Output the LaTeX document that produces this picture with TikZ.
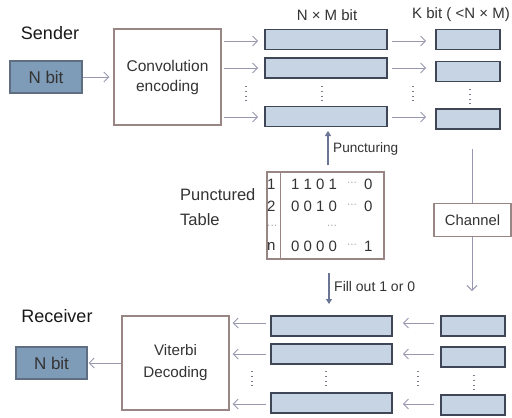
\documentclass[tikz,border=0pt]{standalone}
\usepackage{fontspec}
\setmainfont{Liberation Sans}
\usetikzlibrary{arrows.meta}
\definecolor{boxfill}{HTML}{C6D4E3}
\definecolor{boxline}{HTML}{3F4656}
\definecolor{nfill}{HTML}{7E9BB8}
\definecolor{nline}{HTML}{5F6E80}
\definecolor{procline}{HTML}{9A8585}
\definecolor{arrcol}{HTML}{9898B0}
\definecolor{thickcol}{HTML}{6A7595}
\definecolor{txt}{HTML}{333333}
\newcommand{\fs}[2][1.2]{\fontsize{#2bp}{#1\dimexpr #2bp\relax}\selectfont}
\newcommand{\fsk}[2]{\fontsize{#1bp}{#2bp}\selectfont}
\begin{document}
\begin{tikzpicture}[x=1bp,y=-1bp,
  bitbox/.style={draw=boxline,fill=boxfill,line width=1.6bp,inner sep=0pt,minimum height=20bp},
  nbox/.style={draw=nline,fill=nfill,line width=1.2bp,inner sep=0pt,minimum width=72bp,minimum height=32bp,text=txt,font=\fs{17}},
  proc/.style={draw=procline,fill=white,line width=1.2bp,inner sep=0pt,text=txt,align=center},
  arr/.style={draw=arrcol,line width=0.9bp,-{Straight Barb[length=5bp,width=10bp]}},
  thick/.style={draw=thickcol,line width=2.4bp,-{Triangle[length=5bp,width=6bp]}},
  lbl/.style={text=txt,inner sep=0pt},
  dim/.style={text=txt!55},
  vdots/.style={draw=arrcol!80!black,line width=1.3bp,dash pattern=on 1.3bp off 3.5bp}
]
\useasboundingbox (0,0) rectangle (512,417);
\fill[white] (0,0) rectangle (512,417);

% ---------- Sender ----------
\node[lbl,font=\fs{18},text=black!90] (sender) at (50,33) {Sender};
\node[nbox] (sn) at (46,77) {N bit};
\node[proc,font=\fsk{15.5}{20},minimum width=107bp,minimum height=96bp] (conv) at (167.5,77) {Convolution\\encoding};
\draw[arr] (sn.east) -- ([xshift=-4bp]conv.west |- sn.east);

\node[lbl,font=\fs{15}] (lnm) at (327,15) {N × M bit};
\node[lbl,font=\fs{15}] (lk) at (461,15) {K bit ( <N × M)};

\node[bitbox,minimum width=122bp] (n1) at (326,39.5) {};
\node[bitbox,minimum width=122bp] (n2) at (326,68) {};
\node[bitbox,minimum width=122bp] (n3) at (326,116.5) {};
\node[bitbox,minimum width=64bp] (k1) at (468,39.5) {};
\node[bitbox,minimum width=64bp] (k2) at (468,71.5) {};
\node[bitbox,minimum width=64bp] (k3) at (468,119) {};

\foreach \r/\y in {1/41,2/68,3/117}{
  \draw[arr] ([xshift=2bp]conv.east |- 0,\y) -- ([xshift=-6bp]n\r.west |- 0,\y);
  \draw[arr] ([xshift=4bp]n\r.east |- 0,\y) -- ([xshift=-9bp]k\r.west |- 0,\y);
}
\draw[vdots] (246,86) -- (246,101);
\draw[vdots] (322,86) -- (322,101);
\draw[vdots] (413,86) -- (413,101);
\draw[vdots] (470,89) -- (470,104);

% ---------- Punctured table ----------
\node[draw=procline,line width=1.4bp,minimum width=117bp,minimum height=87bp,inner sep=0pt] (tab) at (325.5,215.5) {};
\draw[draw=procline,line width=1.4bp] (tab.north west) ++(14,0) coordinate (dtop) -- (dtop |- tab.south);
\node[lbl,font=\fsk{16.5}{25},align=left,anchor=west] (ptl) at (180,207.5) {Punctured\\Table};
\foreach \t/\y in {1/184,2/206}{\node[lbl,font=\fs{15},anchor=west] (c\t) at (267,\y) {\t};}
\node[lbl,font=\fs{10},anchor=west,dim] (cd) at (267,227) {···};
\node[lbl,font=\fs{15},anchor=west] (cn) at (267,246) {n};
\foreach \nm/\y/\d/\e in {r1/184/1 1 0 1/0, r2/206/0 0 1 0/0, rn/246/0 0 0 0/1}{
  \node[lbl,font=\fs{15},anchor=west] (\nm a) at (291,\y) {\d};
  \node[lbl,font=\fs{10},dim] (\nm b) at (352,\y) {···};
  \node[lbl,font=\fs{15},anchor=west] (\nm c) at (364,\y) {\e};
}
\node[lbl,font=\fs{10},dim] (rd) at (332,227) {···};

\coordinate (pbot) at (328,165);
\coordinate (ptop) at (328,131);
\draw[thick] (pbot) -- (ptop);
\node[lbl,font=\fs{13.6},anchor=west] (punc) at (333,149) {Puncturing};

% ---------- Channel ----------
\node[proc,font=\fs{14.8},minimum width=77bp,minimum height=33bp] (chan) at (472.5,220) {Channel};
\coordinate (ctop) at (472,149);
\coordinate (cbot) at (472,291);
\draw[draw=arrcol,line width=0.9bp] (ctop) -- (ctop |- chan.north);
\draw[arr] (ctop |- chan.south) -- (cbot);

\coordinate (ftop) at (329,273);
\coordinate (fbot) at (329,304);
\draw[thick] (ftop) -- (fbot);
\node[lbl,font=\fs{14},anchor=west] (fill) at (334,286) {Fill out 1 or 0};

% ---------- Receiver ----------
\node[lbl,font=\fs{18},text=black!90] (recv) at (57,316) {Receiver};
\node[nbox,minimum width=71bp] (rn0) at (51.5,363) {N bit};
\node[proc,font=\fsk{15.2}{22},minimum width=107bp,minimum height=94bp] (vit) at (175.5,363) {Viterbi\\Decoding};
\draw[arr] (vit.west) -- ([xshift=1bp]rn0.east);

\node[bitbox,minimum width=121bp] (m1) at (331.5,326) {};
\node[bitbox,minimum width=121bp] (m2) at (331.5,354) {};
\node[bitbox,minimum width=121bp] (m3) at (331.5,403) {};
\node[bitbox,minimum width=64bp] (q1) at (473,326) {};
\node[bitbox,minimum width=64bp] (q2) at (473,357) {};
\node[bitbox,minimum width=64bp] (q3) at (473,405) {};

\foreach \r/\y in {1/323,2/354,3/404}{
  \draw[arr] ([xshift=-4bp]m\r.west |- 0,\y) -- ([xshift=3bp]vit.east |- 0,\y);
  \draw[arr] ([xshift=-6bp]q\r.west |- 0,\y) -- ([xshift=10bp]m\r.east |- 0,\y);
}
\draw[vdots] (252,371) -- (252,386);
\draw[vdots] (326,371) -- (326,386);
\draw[vdots] (418,371) -- (418,386);
\draw[vdots] (474,375) -- (474,390);
\end{tikzpicture}
\end{document}
